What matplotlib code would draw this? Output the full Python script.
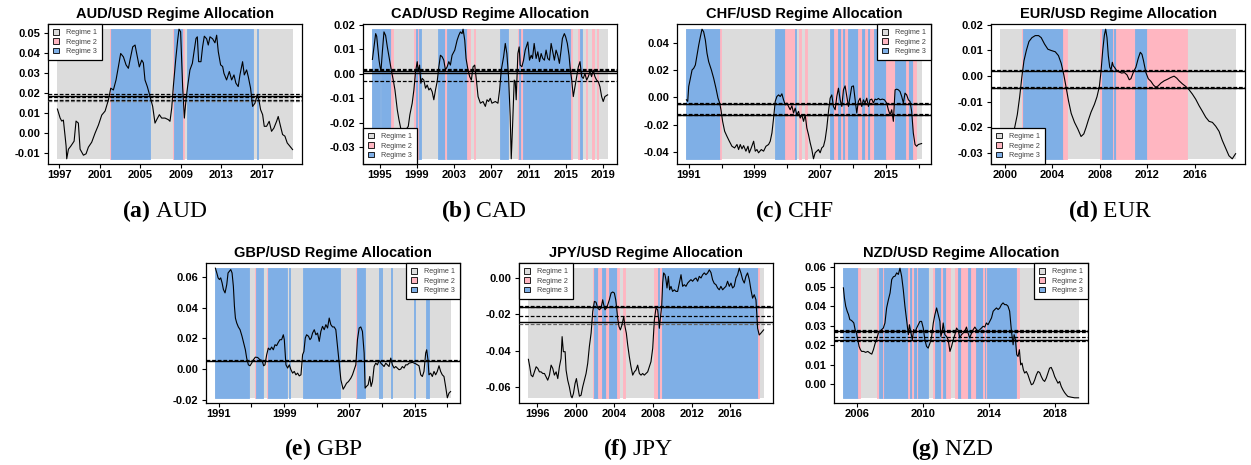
import numpy as np
import matplotlib
matplotlib.use("Agg")
import matplotlib.pyplot as plt
from matplotlib.patches import Patch

plt.rcParams['font.family'] = ['Liberation Sans', 'DejaVu Sans']
plt.rcParams['mathtext.fontset'] = 'custom'
plt.rcParams['mathtext.rm'] = 'Liberation Serif'
plt.rcParams['mathtext.bf'] = 'Liberation Serif:bold'

GRAY = '#dcdcdc'
PINK = '#ffb6c1'
BLUE = '#7fafe6'

# --- series: (year, value) ---
aud_series = [
    (1996.80, 0.0120), (1997.07, 0.0075), (1997.23, 0.0060), (1997.39, 0.0065), (1997.56, -0.0016),
    (1997.66, -0.0065), (1997.72, -0.0128), (1997.89, -0.0080), (1998.12, -0.0065), (1998.32, -0.0050),
    (1998.45, -0.0040), (1998.64, 0.0060), (1998.87, 0.0050), (1999.04, -0.0080), (1999.37, -0.0110),
    (1999.63, -0.0103), (1999.86, -0.0070), (2000.19, -0.0045), (2000.52, 0.0000), (2000.85, 0.0040),
    (2001.18, 0.0090), (2001.51, 0.0110), (2001.84, 0.0166), (2002.07, 0.0224), (2002.33, 0.0215),
    (2002.59, 0.0265), (2002.82, 0.0330), (2003.05, 0.0397), (2003.32, 0.0380), (2003.58, 0.0340),
    (2003.81, 0.0323), (2003.97, 0.0364), (2004.24, 0.0430), (2004.47, 0.0439), (2004.63, 0.0397),
    (2004.89, 0.0330), (2005.13, 0.0364), (2005.29, 0.0350), (2005.45, 0.0265), (2005.68, 0.0232),
    (2005.95, 0.0183), (2006.21, 0.0133), (2006.44, 0.0050), (2006.61, 0.0067), (2006.87, 0.0092),
    (2007.10, 0.0075), (2007.43, 0.0075), (2007.76, 0.0067), (2007.92, 0.0059), (2008.09, 0.0125),
    (2008.25, 0.0232), (2008.48, 0.0364), (2008.68, 0.0464), (2008.81, 0.0518), (2008.97, 0.0505),
    (2009.17, 0.0232), (2009.34, 0.0075), (2009.50, 0.0166), (2009.66, 0.0232), (2009.89, 0.0315),
    (2010.13, 0.0348), (2010.32, 0.0414), (2010.49, 0.0472), (2010.62, 0.0480), (2010.75, 0.0356),
    (2010.98, 0.0356), (2011.14, 0.0430), (2011.31, 0.0483), (2011.54, 0.0470), (2011.70, 0.0439),
    (2011.87, 0.0480), (2012.13, 0.0470), (2012.36, 0.0450), (2012.53, 0.0488), (2012.69, 0.0406),
    (2012.92, 0.0340), (2013.12, 0.0332), (2013.25, 0.0298), (2013.51, 0.0265), (2013.78, 0.0307),
    (2014.01, 0.0265), (2014.24, 0.0290), (2014.43, 0.0249), (2014.66, 0.0232), (2014.83, 0.0290),
    (2015.09, 0.0356), (2015.26, 0.0290), (2015.49, 0.0315), (2015.65, 0.0282), (2015.88, 0.0224),
    (2016.08, 0.0133), (2016.31, 0.0149), (2016.54, 0.0191), (2016.70, 0.0166), (2016.87, 0.0117),
    (2017.07, 0.0092), (2017.23, 0.0034), (2017.46, 0.0034), (2017.72, 0.0059), (2017.95, 0.0009),
    (2018.18, 0.0025), (2018.45, 0.0059), (2018.61, 0.0083), (2018.84, 0.0034), (2019.04, -0.0007),
    (2019.27, -0.0015), (2019.50, -0.0049), (2019.76, -0.0065), (2020.03, -0.0082),
]

cad_series = [
    (1994.22, 0.0058), (1994.39, 0.0109), (1994.57, 0.0163), (1994.68, 0.0152), (1994.82, 0.0096),
    (1994.93, 0.0055), (1995.04, 0.0028), (1995.14, 0.0012), (1995.29, 0.0090), (1995.46, 0.0170),
    (1995.64, 0.0155), (1995.82, 0.0109), (1996.07, 0.0055), (1996.28, 0.0008), (1996.46, -0.0026),
    (1996.64, -0.0066), (1996.89, -0.0147), (1997.07, -0.0187), (1997.25, -0.0220), (1997.50, -0.0236),
    (1997.78, -0.0229), (1998.07, -0.0214), (1998.24, -0.0167), (1998.49, -0.0120), (1998.67, -0.0066),
    (1998.85, 0.0008), (1999.03, 0.0049), (1999.14, 0.0008), (1999.28, 0.0035), (1999.42, -0.0039),
    (1999.56, -0.0019), (1999.74, -0.0026), (1999.92, -0.0059), (2000.10, -0.0046), (2000.28, -0.0066),
    (2000.45, -0.0059), (2000.63, -0.0073), (2000.81, -0.0106), (2000.99, -0.0066), (2001.17, -0.0032),
    (2001.35, 0.0028), (2001.52, 0.0075), (2001.70, 0.0069), (2001.88, 0.0055), (2002.06, 0.0015),
    (2002.24, 0.0028), (2002.42, 0.0049), (2002.59, 0.0035), (2002.77, 0.0075), (2003.06, 0.0096),
    (2003.31, 0.0136), (2003.49, 0.0156), (2003.66, 0.0170), (2003.84, 0.0163), (2003.95, 0.0181),
    (2004.13, 0.0136), (2004.27, 0.0062), (2004.48, 0.0015), (2004.66, -0.0012), (2004.84, -0.0026),
    (2005.02, 0.0028), (2005.20, 0.0035), (2005.38, -0.0026), (2005.56, -0.0093), (2005.81, -0.0120),
    (2006.09, -0.0113), (2006.34, -0.0133), (2006.52, -0.0106), (2006.69, -0.0113), (2006.87, -0.0100),
    (2007.05, -0.0120), (2007.41, -0.0113), (2007.69, -0.0120), (2007.87, -0.0066), (2008.05, 0.0015),
    (2008.30, 0.0069), (2008.48, 0.0123), (2008.65, 0.0082), (2008.83, -0.0012), (2009.01, -0.0174),
    (2009.12, -0.0346), (2009.26, -0.0214), (2009.44, -0.0026), (2009.55, -0.0032), (2009.65, -0.0106),
    (2009.83, 0.0082), (2009.97, 0.0109), (2010.08, 0.0035), (2010.26, 0.0028), (2010.44, 0.0055),
    (2010.62, 0.0096), (2010.90, 0.0129), (2011.08, 0.0055), (2011.26, 0.0075), (2011.40, 0.0062),
    (2011.58, 0.0123), (2011.79, 0.0062), (2011.97, 0.0089), (2012.15, 0.0049), (2012.33, 0.0082),
    (2012.50, 0.0062), (2012.68, 0.0055), (2012.86, 0.0096), (2013.04, 0.0062), (2013.22, 0.0055),
    (2013.40, 0.0123), (2013.57, 0.0089), (2013.75, 0.0055), (2013.93, 0.0096), (2014.11, 0.0075),
    (2014.29, 0.0042), (2014.47, 0.0096), (2014.61, 0.0143), (2014.82, 0.0163), (2014.96, 0.0150),
    (2015.14, 0.0123), (2015.32, 0.0075), (2015.43, 0.0028), (2015.61, -0.0026), (2015.78, -0.0093),
    (2015.96, -0.0053), (2016.14, -0.0012), (2016.32, 0.0028), (2016.50, 0.0049), (2016.68, -0.0012),
    (2016.85, -0.0019), (2017.03, 0.0001), (2017.21, -0.0026), (2017.39, -0.0012), (2017.57, 0.0008),
    (2017.74, -0.0012), (2017.92, 0.0015), (2018.10, -0.0012), (2018.28, -0.0026), (2018.46, -0.0032),
    (2018.64, -0.0053), (2018.82, -0.0093), (2018.99, -0.0113), (2019.17, -0.0093), (2019.46, -0.0086),
]

chf_series = [
    (1990.72, -0.0017), (1990.88, -0.0029), (1991.00, 0.0080), (1991.20, 0.0141), (1991.41, 0.0202),
    (1991.61, 0.0214), (1991.81, 0.0238), (1992.01, 0.0311), (1992.22, 0.0384), (1992.42, 0.0445),
    (1992.62, 0.0501), (1992.82, 0.0482), (1993.03, 0.0421), (1993.23, 0.0324), (1993.43, 0.0263),
    (1993.76, 0.0202), (1994.04, 0.0141), (1994.32, 0.0068), (1994.57, -0.0005), (1994.77, -0.0041),
    (1994.93, -0.0090), (1995.13, -0.0175), (1995.38, -0.0248), (1995.66, -0.0285), (1995.95, -0.0321),
    (1996.27, -0.0358), (1996.59, -0.0370), (1996.88, -0.0345), (1997.08, -0.0382), (1997.28, -0.0345),
    (1997.49, -0.0377), (1997.69, -0.0353), (1997.97, -0.0394), (1998.22, -0.0358), (1998.38, -0.0406),
    (1998.62, -0.0370), (1998.91, -0.0321), (1999.11, -0.0394), (1999.31, -0.0382), (1999.51, -0.0406),
    (1999.84, -0.0382), (2000.12, -0.0394), (2000.41, -0.0358), (2000.73, -0.0345), (2000.93, -0.0321),
    (2001.14, -0.0260), (2001.34, -0.0151), (2001.54, -0.0029), (2001.74, 0.0007), (2001.95, 0.0019),
    (2002.15, 0.0007), (2002.35, 0.0027), (2002.55, -0.0017), (2002.76, -0.0054), (2002.96, -0.0041),
    (2003.16, -0.0066), (2003.36, -0.0090), (2003.57, -0.0061), (2003.77, -0.0114), (2003.97, -0.0078),
    (2004.17, -0.0127), (2004.38, -0.0102), (2004.58, -0.0151), (2004.78, -0.0127), (2004.99, -0.0175),
    (2005.19, -0.0127), (2005.39, -0.0224), (2005.59, -0.0272), (2005.80, -0.0333), (2006.00, -0.0382),
    (2006.20, -0.0450), (2006.40, -0.0406), (2006.61, -0.0394), (2006.81, -0.0382), (2007.01, -0.0406),
    (2007.21, -0.0370), (2007.42, -0.0358), (2007.62, -0.0309), (2007.82, -0.0224), (2008.03, -0.0102),
    (2008.23, -0.0005), (2008.43, 0.0019), (2008.63, -0.0066), (2008.84, -0.0090), (2009.04, 0.0007),
    (2009.24, 0.0068), (2009.45, -0.0017), (2009.65, -0.0066), (2009.85, 0.0056), (2010.05, 0.0085),
    (2010.26, 0.0007), (2010.46, -0.0066), (2010.66, 0.0007), (2010.86, 0.0080), (2011.07, 0.0085),
    (2011.27, -0.0017), (2011.47, -0.0114), (2011.67, -0.0029), (2011.88, -0.0005), (2012.08, -0.0066),
    (2012.28, -0.0017), (2012.48, -0.0041), (2012.69, -0.0005), (2012.89, -0.0066), (2013.09, -0.0017),
    (2013.30, -0.0012), (2013.50, -0.0041), (2013.70, -0.0012), (2013.90, -0.0017), (2014.11, -0.0007),
    (2014.31, -0.0017), (2014.59, -0.0012), (2014.84, -0.0017), (2015.12, -0.0041), (2015.32, -0.0090),
    (2015.53, -0.0127), (2015.73, -0.0090), (2015.93, -0.0175), (2016.14, 0.0056), (2016.34, 0.0061),
    (2016.54, 0.0056), (2016.74, 0.0044), (2016.95, 0.0007), (2017.15, -0.0041), (2017.35, 0.0032),
    (2017.55, 0.0019), (2017.76, -0.0017), (2017.96, -0.0029), (2018.16, -0.0102), (2018.36, -0.0260),
    (2018.57, -0.0345), (2018.77, -0.0358), (2018.97, -0.0345), (2019.37, -0.0338),
]

eur_series = [
    (1999.64, -0.0300), (2000.14, -0.0270), (2000.56, -0.0240), (2000.84, -0.0200), (2001.06, -0.0150),
    (2001.26, -0.0080), (2001.45, 0.0000), (2001.62, 0.0060), (2001.82, 0.0100), (2002.04, 0.0135),
    (2002.29, 0.0150), (2002.57, 0.0158), (2002.85, 0.0158), (2003.07, 0.0150), (2003.35, 0.0125),
    (2003.63, 0.0105), (2003.91, 0.0100), (2004.25, 0.0095), (2004.52, 0.0080), (2004.75, 0.0050),
    (2004.97, 0.0005), (2005.17, -0.0045), (2005.36, -0.0095), (2005.59, -0.0145), (2005.87, -0.0180),
    (2006.14, -0.0205), (2006.42, -0.0235), (2006.65, -0.0225), (2006.84, -0.0200), (2007.04, -0.0170),
    (2007.26, -0.0140), (2007.54, -0.0110), (2007.76, -0.0080), (2007.96, -0.0040), (2008.10, 0.0020),
    (2008.24, 0.0100), (2008.38, 0.0160), (2008.49, 0.0183), (2008.60, 0.0150), (2008.71, 0.0080),
    (2008.83, 0.0035), (2008.94, 0.0025), (2009.05, 0.0054), (2009.13, 0.0040), (2009.24, 0.0034),
    (2009.44, 0.0020), (2009.83, 0.0012), (2010.06, 0.0014), (2010.28, 0.0005), (2010.47, -0.0014),
    (2010.61, -0.0010), (2010.84, 0.0018), (2011.03, 0.0035), (2011.23, 0.0070), (2011.40, 0.0093),
    (2011.54, 0.0085), (2011.67, 0.0060), (2011.87, 0.0014), (2012.07, -0.0010), (2012.29, -0.0020),
    (2012.51, -0.0035), (2012.71, -0.0043), (2012.90, -0.0038), (2013.13, -0.0027), (2013.41, -0.0018),
    (2013.69, -0.0012), (2013.97, -0.0005), (2014.24, 0.0000), (2014.47, -0.0008), (2014.66, -0.0018),
    (2014.94, -0.0030), (2015.22, -0.0040), (2015.50, -0.0053), (2015.78, -0.0070), (2016.06, -0.0090),
    (2016.34, -0.0115), (2016.62, -0.0137), (2016.90, -0.0160), (2017.18, -0.0176), (2017.46, -0.0180),
    (2017.74, -0.0195), (2018.02, -0.0215), (2018.29, -0.0250), (2018.57, -0.0280), (2018.85, -0.0310),
    (2019.13, -0.0322), (2019.41, -0.0302),
]

gbp_series = [
    (1990.59, 0.0658), (1990.76, 0.0627), (1990.92, 0.0595), (1991.08, 0.0584), (1991.24, 0.0595),
    (1991.41, 0.0562), (1991.57, 0.0519), (1991.77, 0.0497), (1991.98, 0.0551), (1992.14, 0.0627),
    (1992.30, 0.0638), (1992.47, 0.0649), (1992.63, 0.0627), (1992.79, 0.0540), (1992.92, 0.0410),
    (1993.04, 0.0333), (1993.20, 0.0301), (1993.40, 0.0275), (1993.61, 0.0257), (1993.85, 0.0214),
    (1994.06, 0.0170), (1994.26, 0.0126), (1994.42, 0.0072), (1994.63, 0.0028), (1994.83, 0.0022),
    (1995.03, 0.0039), (1995.24, 0.0061), (1995.48, 0.0078), (1995.77, 0.0076), (1996.05, 0.0061),
    (1996.30, 0.0057), (1996.50, 0.0022), (1996.66, 0.0028), (1996.87, 0.0094), (1997.07, 0.0137),
    (1997.28, 0.0126), (1997.48, 0.0144), (1997.68, 0.0126), (1997.89, 0.0159), (1998.09, 0.0153),
    (1998.29, 0.0174), (1998.50, 0.0192), (1998.70, 0.0192), (1998.91, 0.0224), (1999.03, 0.0192),
    (1999.23, 0.0028), (1999.44, 0.0007), (1999.64, 0.0028), (1999.84, -0.0004), (2000.05, -0.0026),
    (2000.25, -0.0015), (2000.45, -0.0037), (2000.66, -0.0026), (2000.86, -0.0044), (2001.07, -0.0037),
    (2001.27, 0.0094), (2001.43, 0.0115), (2001.60, 0.0203), (2001.76, 0.0224), (2002.00, 0.0214),
    (2002.17, 0.0192), (2002.33, 0.0203), (2002.49, 0.0235), (2002.70, 0.0257), (2002.90, 0.0224),
    (2003.10, 0.0235), (2003.31, 0.0181), (2003.51, 0.0246), (2003.71, 0.0279), (2003.92, 0.0257),
    (2004.12, 0.0290), (2004.33, 0.0268), (2004.53, 0.0333), (2004.73, 0.0290), (2004.94, 0.0275),
    (2005.14, 0.0275), (2005.34, 0.0257), (2005.55, 0.0148), (2005.75, 0.0039), (2005.96, -0.0070),
    (2006.24, -0.0131), (2006.44, -0.0113), (2006.65, -0.0092), (2006.89, -0.0081), (2007.18, -0.0059),
    (2007.38, -0.0037), (2007.59, -0.0004), (2007.79, 0.0028), (2007.99, 0.0192), (2008.20, 0.0268),
    (2008.40, 0.0275), (2008.60, 0.0246), (2008.81, 0.0105), (2008.93, -0.0124), (2009.09, -0.0113),
    (2009.30, -0.0102), (2009.50, -0.0048), (2009.66, -0.0113), (2009.83, -0.0081), (2010.03, 0.0017),
    (2010.23, 0.0039), (2010.44, 0.0028), (2010.64, 0.0057), (2010.85, 0.0039), (2011.05, 0.0028),
    (2011.25, 0.0017), (2011.46, 0.0039), (2011.66, 0.0028), (2011.86, 0.0017), (2012.07, 0.0072),
    (2012.27, 0.0028), (2012.48, 0.0007), (2012.68, 0.0017), (2012.88, 0.0007), (2013.09, -0.0004),
    (2013.29, 0.0000), (2013.49, 0.0017), (2013.70, 0.0007), (2013.90, 0.0028), (2014.11, 0.0028),
    (2014.31, 0.0039), (2014.72, 0.0044), (2015.12, 0.0035), (2015.53, 0.0022), (2015.74, -0.0037),
    (2015.94, -0.0048), (2016.14, -0.0015), (2016.35, 0.0105), (2016.47, 0.0126), (2016.63, 0.0061),
    (2016.75, -0.0037), (2016.96, -0.0026), (2017.16, -0.0048), (2017.37, -0.0015), (2017.57, -0.0037),
    (2017.77, -0.0015), (2017.98, 0.0022), (2018.18, -0.0015), (2018.38, -0.0037), (2018.59, -0.0048),
    (2018.79, -0.0113), (2019.00, -0.0187), (2019.20, -0.0157), (2019.40, -0.0146),
]

jpy_series = [
    (1995.10, -0.0448), (1995.24, -0.0489), (1995.38, -0.0535), (1995.55, -0.0544), (1995.72, -0.0517),
    (1995.90, -0.0489), (1996.07, -0.0498), (1996.24, -0.0517), (1996.41, -0.0517), (1996.59, -0.0526),
    (1996.76, -0.0526), (1996.93, -0.0544), (1997.10, -0.0563), (1997.28, -0.0535), (1997.45, -0.0480),
    (1997.62, -0.0498), (1997.79, -0.0535), (1997.97, -0.0517), (1998.14, -0.0554), (1998.31, -0.0489),
    (1998.48, -0.0443), (1998.59, -0.0323), (1998.72, -0.0406), (1998.90, -0.0406), (1999.00, -0.0507),
    (1999.17, -0.0563), (1999.34, -0.0600), (1999.52, -0.0651), (1999.62, -0.0660), (1999.76, -0.0637),
    (1999.93, -0.0581), (2000.07, -0.0554), (2000.21, -0.0600), (2000.38, -0.0651), (2000.55, -0.0646),
    (2000.72, -0.0600), (2000.90, -0.0563), (2001.07, -0.0526), (2001.24, -0.0470), (2001.41, -0.0378),
    (2001.59, -0.0304), (2001.76, -0.0185), (2001.93, -0.0129), (2002.10, -0.0133), (2002.28, -0.0166),
    (2002.45, -0.0175), (2002.62, -0.0166), (2002.79, -0.0120), (2002.90, -0.0148), (2003.03, -0.0175),
    (2003.17, -0.0166), (2003.31, -0.0148), (2003.48, -0.0120), (2003.66, -0.0083), (2003.83, -0.0077),
    (2004.00, -0.0083), (2004.14, -0.0120), (2004.24, -0.0166), (2004.34, -0.0221), (2004.48, -0.0268),
    (2004.62, -0.0286), (2004.79, -0.0258), (2004.97, -0.0212), (2005.10, -0.0268), (2005.24, -0.0304),
    (2005.38, -0.0369), (2005.55, -0.0434), (2005.72, -0.0489), (2005.90, -0.0535), (2006.07, -0.0517),
    (2006.24, -0.0507), (2006.41, -0.0480), (2006.59, -0.0526), (2006.76, -0.0535), (2006.93, -0.0526),
    (2007.10, -0.0535), (2007.28, -0.0526), (2007.45, -0.0517), (2007.62, -0.0489), (2007.79, -0.0461),
    (2007.97, -0.0387), (2008.14, -0.0231), (2008.31, -0.0166), (2008.48, -0.0175), (2008.59, -0.0231),
    (2008.66, -0.0277), (2008.76, -0.0221), (2008.90, -0.0157), (2009.00, -0.0028), (2009.10, 0.0028),
    (2009.24, 0.0018), (2009.34, -0.0009), (2009.45, -0.0055), (2009.59, 0.0009), (2009.72, -0.0065),
    (2009.86, -0.0046), (2010.03, -0.0074), (2010.21, -0.0065), (2010.38, -0.0074), (2010.55, -0.0074),
    (2010.72, -0.0028), (2010.90, 0.0018), (2011.07, -0.0046), (2011.24, -0.0037), (2011.41, -0.0046),
    (2011.59, -0.0028), (2011.76, -0.0018), (2011.93, -0.0009), (2012.10, -0.0018), (2012.28, -0.0006),
    (2012.45, 0.0000), (2012.62, -0.0018), (2012.79, 0.0009), (2012.97, 0.0000), (2013.14, 0.0018),
    (2013.31, 0.0028), (2013.48, 0.0018), (2013.66, 0.0028), (2013.83, 0.0045), (2014.00, 0.0030),
    (2014.17, -0.0010), (2014.34, -0.0030), (2014.52, -0.0037), (2014.69, -0.0055), (2014.86, -0.0065),
    (2015.03, -0.0046), (2015.21, -0.0065), (2015.38, -0.0055), (2015.55, -0.0046), (2015.72, -0.0018),
    (2015.90, -0.0046), (2016.07, -0.0028), (2016.24, -0.0055), (2016.41, -0.0046), (2016.59, 0.0000),
    (2016.76, 0.0018), (2016.93, 0.0054), (2017.10, 0.0028), (2017.28, -0.0009), (2017.45, -0.0028),
    (2017.62, 0.0009), (2017.79, 0.0028), (2017.97, -0.0009), (2018.14, -0.0065), (2018.31, -0.0111),
    (2018.48, -0.0092), (2018.66, -0.0120), (2018.83, -0.0277), (2019.00, -0.0314), (2019.17, -0.0304),
    (2019.45, -0.0286),
]

nzd_series = [
    (2005.19, 0.0494), (2005.25, 0.0443), (2005.33, 0.0400), (2005.42, 0.0374), (2005.50, 0.0357),
    (2005.58, 0.0331), (2005.66, 0.0328), (2005.74, 0.0322), (2005.82, 0.0314), (2005.90, 0.0280),
    (2005.98, 0.0262), (2006.06, 0.0228), (2006.14, 0.0194), (2006.22, 0.0177), (2006.30, 0.0168),
    (2006.42, 0.0168), (2006.54, 0.0163), (2006.67, 0.0168), (2006.79, 0.0160), (2006.91, 0.0154),
    (2007.01, 0.0177), (2007.11, 0.0208), (2007.21, 0.0232), (2007.31, 0.0262), (2007.41, 0.0271),
    (2007.51, 0.0280), (2007.61, 0.0288), (2007.71, 0.0314), (2007.81, 0.0391), (2007.92, 0.0434),
    (2008.02, 0.0468), (2008.12, 0.0537), (2008.22, 0.0551), (2008.32, 0.0554), (2008.42, 0.0571),
    (2008.52, 0.0563), (2008.62, 0.0595), (2008.72, 0.0554), (2008.82, 0.0485), (2008.92, 0.0400),
    (2009.02, 0.0331), (2009.13, 0.0254), (2009.19, 0.0305), (2009.27, 0.0271), (2009.37, 0.0228),
    (2009.45, 0.0280), (2009.53, 0.0266), (2009.63, 0.0288), (2009.73, 0.0305), (2009.83, 0.0322),
    (2009.93, 0.0322), (2010.03, 0.0288), (2010.13, 0.0228), (2010.23, 0.0194), (2010.33, 0.0185),
    (2010.44, 0.0211), (2010.54, 0.0245), (2010.64, 0.0314), (2010.74, 0.0357), (2010.84, 0.0391),
    (2010.94, 0.0357), (2011.04, 0.0322), (2011.10, 0.0245), (2011.18, 0.0271), (2011.24, 0.0314),
    (2011.34, 0.0254), (2011.44, 0.0245), (2011.54, 0.0228), (2011.65, 0.0168), (2011.75, 0.0194),
    (2011.85, 0.0228), (2011.95, 0.0254), (2012.05, 0.0288), (2012.15, 0.0276), (2012.25, 0.0237),
    (2012.35, 0.0254), (2012.45, 0.0262), (2012.55, 0.0271), (2012.65, 0.0293), (2012.75, 0.0262),
    (2012.85, 0.0237), (2012.96, 0.0262), (2013.06, 0.0280), (2013.16, 0.0293), (2013.26, 0.0280),
    (2013.36, 0.0271), (2013.46, 0.0280), (2013.56, 0.0288), (2013.66, 0.0297), (2013.76, 0.0293),
    (2013.86, 0.0314), (2013.96, 0.0305), (2014.06, 0.0322), (2014.17, 0.0340), (2014.27, 0.0374),
    (2014.37, 0.0383), (2014.47, 0.0391), (2014.57, 0.0383), (2014.67, 0.0391), (2014.77, 0.0408),
    (2014.87, 0.0417), (2014.97, 0.0408), (2015.07, 0.0408), (2015.17, 0.0400), (2015.27, 0.0374),
    (2015.38, 0.0271), (2015.48, 0.0202), (2015.54, 0.0254), (2015.62, 0.0228), (2015.70, 0.0151),
    (2015.78, 0.0142), (2015.86, 0.0177), (2015.94, 0.0099), (2016.02, 0.0108), (2016.10, 0.0074),
    (2016.18, 0.0057), (2016.28, 0.0065), (2016.38, 0.0048), (2016.48, 0.0022), (2016.59, -0.0003),
    (2016.69, 0.0002), (2016.79, 0.0022), (2016.89, 0.0048), (2016.99, 0.0065), (2017.09, 0.0060),
    (2017.19, 0.0039), (2017.29, 0.0022), (2017.39, 0.0014), (2017.49, 0.0031), (2017.59, 0.0057),
    (2017.69, 0.0082), (2017.79, 0.0086), (2017.90, 0.0065), (2018.00, 0.0039), (2018.10, 0.0022),
    (2018.20, 0.0005), (2018.30, 0.0014), (2018.40, -0.0012), (2018.50, -0.0029), (2018.60, -0.0043),
    (2018.71, -0.0055), (2018.80, -0.0063), (2019.01, -0.0067), (2019.21, -0.0070), (2019.45, -0.0070),
]

# --- regime spans (start, end, regime); regime 1 is the background ---
aud_regimes = [
    (2002.0, 2002.1, 2), (2002.1, 2005.95, 3), (2008.18, 2008.28, 2), (2008.28, 2009.17, 3),
    (2009.17, 2009.27, 2), (2009.57, 2016.08, 3), (2016.5, 2016.6, 3),
]
cad_regimes = [
    (1994.22, 1995.02, 3), (1995.10, 1996.18, 3), (1996.21, 1996.43, 2), (1998.67, 1998.85, 2),
    (1998.92, 1999.06, 3), (1999.10, 1999.17, 2), (1999.24, 1999.42, 3), (2001.27, 2002.06, 3),
    (2002.06, 2002.17, 2), (2002.24, 2004.38, 3), (2004.38, 2004.73, 2), (2005.09, 2005.27, 2),
    (2007.94, 2008.76, 3), (2009.83, 2009.97, 2), (2009.97, 2010.12, 3), (2010.19, 2010.40, 2),
    (2010.40, 2015.53, 3), (2015.53, 2015.68, 2), (2016.32, 2016.46, 2), (2016.46, 2016.68, 3),
    (2017.10, 2017.21, 2), (2017.82, 2018.03, 2), (2018.28, 2018.46, 2),
]
chf_regimes = [
    (1990.72, 1994.77, 3), (1994.77, 1994.97, 2), (2001.54, 2002.67, 3), (2002.67, 2003.89, 2),
    (2003.89, 2004.09, 3), (2004.46, 2004.66, 2), (2005.19, 2005.39, 2), (2008.23, 2008.75, 3),
    (2008.75, 2009.16, 2), (2009.16, 2009.56, 3), (2009.56, 2009.85, 2), (2009.85, 2010.05, 3),
    (2010.05, 2010.46, 2), (2010.46, 2011.67, 3), (2011.67, 2012.08, 2), (2012.08, 2012.48, 3),
    (2012.48, 2012.81, 2), (2012.81, 2013.09, 3), (2013.09, 2013.62, 2), (2013.62, 2015.00, 3),
    (2015.00, 2016.13, 2), (2016.13, 2018.36, 3), (2017.47, 2017.67, 2), (2018.36, 2018.64, 2),
]
eur_regimes = [
    (2001.45, 2001.56, 2), (2001.56, 2004.94, 3), (2004.94, 2005.25, 2), (2008.04, 2008.16, 2),
    (2008.16, 2009.08, 3), (2009.08, 2009.16, 2), (2009.16, 2009.36, 3), (2009.36, 2010.98, 2),
    (2010.98, 2011.96, 3), (2011.96, 2015.31, 2),
]
gbp_regimes = [
    (1990.59, 1994.67, 3), (1995.40, 1995.52, 2), (1995.52, 1996.42, 3), (1996.87, 1996.99, 2),
    (1996.99, 1999.31, 3), (1999.56, 1999.68, 3), (2001.35, 2005.83, 3), (2007.79, 2007.91, 2),
    (2007.91, 2008.89, 3), (2010.64, 2010.72, 3), (2010.89, 2010.97, 3), (2012.11, 2012.19, 3),
    (2014.92, 2015.00, 3), (2016.43, 2016.75, 3),
]
jpy_regimes = [
    (2001.76, 2001.93, 2), (2001.93, 2002.34, 3), (2002.34, 2002.69, 2), (2002.69, 2003.10, 3),
    (2003.10, 2003.45, 2), (2003.45, 2004.28, 3), (2004.28, 2004.45, 2), (2004.86, 2005.10, 2),
    (2008.14, 2008.93, 2), (2008.52, 2008.59, 3), (2008.93, 2018.83, 3), (2018.83, 2018.93, 2),
]
nzd_regimes = [
    (2005.19, 2006.10, 3), (2006.10, 2006.18, 2), (2007.21, 2007.31, 2), (2007.37, 2007.57, 3),
    (2007.57, 2007.63, 2), (2007.63, 2009.13, 3), (2009.13, 2009.23, 2), (2009.23, 2009.37, 3),
    (2009.37, 2009.47, 2), (2009.47, 2009.63, 3), (2009.63, 2009.73, 2), (2009.73, 2010.33, 3),
    (2010.64, 2010.74, 2), (2010.74, 2011.10, 3), (2011.10, 2011.24, 2), (2011.24, 2011.44, 3),
    (2011.44, 2011.65, 2), (2011.95, 2012.11, 2), (2012.11, 2012.35, 3), (2012.35, 2012.75, 2),
    (2012.75, 2012.92, 3), (2012.92, 2013.20, 2), (2013.20, 2013.66, 3), (2013.66, 2013.76, 2),
    (2013.76, 2013.86, 3), (2013.86, 2013.92, 2), (2013.92, 2015.64, 3), (2015.72, 2015.82, 2),
]

# --- threshold lines (value, style) ---
aud_lines = [(0.0193, 'dash'), (0.0186, 'solid'), (0.0179, 'dash'), (0.0166, 'dash'), (0.0161, 'gray')]
cad_lines = [(0.0021, 'dash'), (0.0016, 'dash'), (0.0010, 'solid'), (0.0002, 'solid'), (-0.0030, 'dash')]
chf_lines = [(-0.0042, 'dash'), (-0.0045, 'solid'), (-0.0048, 'dash'),
             (-0.0122, 'dash'), (-0.0125, 'solid'), (-0.0128, 'dash')]
eur_lines = [(0.0023, 'dash'), (0.0020, 'solid'), (-0.0042, 'dash'), (-0.0045, 'solid'), (-0.0047, 'dash')]
gbp_lines = [(0.0062, 'dash'), (0.0056, 'solid')]
jpy_lines = [(-0.0155, 'dash'), (-0.0158, 'solid'), (-0.0161, 'dash'),
             (-0.0209, 'dash'), (-0.0241, 'solid'), (-0.0252, 'gray')]
nzd_lines = [(0.0276, 'dash'), (0.0271, 'solid'), (0.0266, 'dash'),
             (0.0242, 'dash'), (0.0229, 'solid'), (0.0224, 'dash')]

# ticks
aud_xticks = [1997, 2001, 2005, 2009, 2013, 2017]
cad_xticks = [1995, 1999, 2003, 2007, 2011, 2015, 2019]
chf_xticks = [1991, 1995, 1999, 2003, 2007, 2011, 2015, 2019]
eur_xticks = [2000, 2004, 2008, 2012, 2016]
gbp_xticks = [1991, 1995, 1999, 2003, 2007, 2011, 2015, 2019]
jpy_xticks = [1996, 2000, 2004, 2008, 2012, 2016]
nzd_xticks = [2006, 2010, 2014, 2018]

aud_yticks = [-0.01, 0.0, 0.01, 0.02, 0.03, 0.04, 0.05]
cad_yticks = [-0.03, -0.02, -0.01, 0.0, 0.01, 0.02]
chf_yticks = [-0.04, -0.02, 0.0, 0.02, 0.04]
eur_yticks = [-0.03, -0.02, -0.01, 0.0, 0.01, 0.02]
gbp_yticks = [-0.02, 0.0, 0.02, 0.04, 0.06]
jpy_yticks = [-0.06, -0.04, -0.02, 0.0]
nzd_yticks = [0.0, 0.01, 0.02, 0.03, 0.04, 0.05, 0.06]

panels = [
    # name, letter, series, regimes, lines, xticks, label step, yticks, legend loc, axes px (left, top), caption x
    ('AUD', 'a', aud_series, aud_regimes, aud_lines, aud_xticks, 1, aud_yticks, 'upper left', (48, 24), 165),
    ('CAD', 'b', cad_series, cad_regimes, cad_lines, cad_xticks, 1, cad_yticks, 'lower left', (363, 24), 484),
    ('CHF', 'c', chf_series, chf_regimes, chf_lines, chf_xticks, 2, chf_yticks, 'upper right', (677, 24), 795),
    ('EUR', 'd', eur_series, eur_regimes, eur_lines, eur_xticks, 1, eur_yticks, 'lower left', (991, 24), 1110),
    ('GBP', 'e', gbp_series, gbp_regimes, gbp_lines, gbp_xticks, 2, gbp_yticks, 'upper right', (206, 263), 324),
    ('JPY', 'f', jpy_series, jpy_regimes, jpy_lines, jpy_xticks, 1, jpy_yticks, 'upper left', (519, 263), 638),
    ('NZD', 'g', nzd_series, nzd_regimes, nzd_lines, nzd_xticks, 1, nzd_yticks, 'upper right', (834, 263), 952),
]

W, H = 1251, 465
AX_W, AX_H = 254, 140

fig = plt.figure(figsize=(W / 100, H / 100), dpi=100)

for name, letter, series, regimes, lines, xticks, step, yticks, loc, (px, py), capx in panels:
    ax = fig.add_axes([px / W, 1 - (py + AX_H) / H, AX_W / W, AX_H / H])
    years = np.array([p[0] for p in series])
    vals = np.array([p[1] for p in series])
    x0, x1 = years.min(), years.max()
    lo, hi = vals.min(), vals.max()

    # regime background; a thin edge keeps one-month spans visible
    ax.fill_between([x0, x1], lo, hi, color=GRAY, lw=0)
    for a, b, r in regimes:
        c = PINK if r == 2 else BLUE
        ax.fill_between([a, b], lo, hi, facecolor=c, edgecolor=c, lw=0.6)

    for v, style in lines:
        if style == 'solid':
            ax.axhline(v, color='black', lw=1.0, zorder=3)
        elif style == 'dash':
            ax.axhline(v, color='black', lw=0.9, ls=(0, (3, 1.5)), zorder=3)
        else:
            ax.axhline(v, color='#666666', lw=0.9, ls=(0, (3, 1.5)), zorder=3)

    ax.plot(years, vals, color='black', lw=0.8, zorder=4)

    xr, yr = x1 - x0, hi - lo
    ax.set_xlim(x0 - 0.04 * xr, x1 + 0.04 * xr)
    ax.set_ylim(lo - 0.04 * yr, hi + 0.04 * yr)

    ax.set_xticks(xticks)
    ax.set_xticklabels([str(t) if i % step == 0 else '' for i, t in enumerate(xticks)])
    ax.set_yticks(yticks)
    ax.set_yticklabels([f'{t:.2f}' for t in yticks])
    ax.tick_params(axis='both', direction='out', length=3, width=0.8, labelsize=8)
    ax.tick_params(axis='x', pad=1.5)
    ax.tick_params(axis='y', pad=2.5)
    for lab in ax.get_xticklabels() + ax.get_yticklabels():
        lab.set_fontweight('bold')
    for sp in ax.spines.values():
        sp.set_linewidth(0.9)

    ax.set_title(f'{name}/USD Regime Allocation', fontsize=10.5, fontweight='bold', pad=4)

    handles = [Patch(facecolor=c, edgecolor='black', lw=0.6, label=f'Regime {i + 1}')
               for i, c in enumerate([GRAY, PINK, BLUE])]
    leg = ax.legend(handles=handles, loc=loc, fontsize=5.2, frameon=True, fancybox=False,
                    borderaxespad=0, handlelength=0.8, handleheight=0.8, handletextpad=1.0,
                    labelspacing=0.3, borderpad=0.7, framealpha=1, edgecolor='black')
    leg.get_frame().set_linewidth(0.9)
    leg.set_zorder(10)
    for t in leg.get_texts():
        t.set_color('#444444')

    base = 217 if py < 100 else 455
    fig.text(capx / W, 1 - base / H, rf'$\mathbf{{({letter})}}$ {name}', ha='center', va='baseline',
             fontsize=17, family='Liberation Serif')

fig.savefig('out.png', dpi=100)
